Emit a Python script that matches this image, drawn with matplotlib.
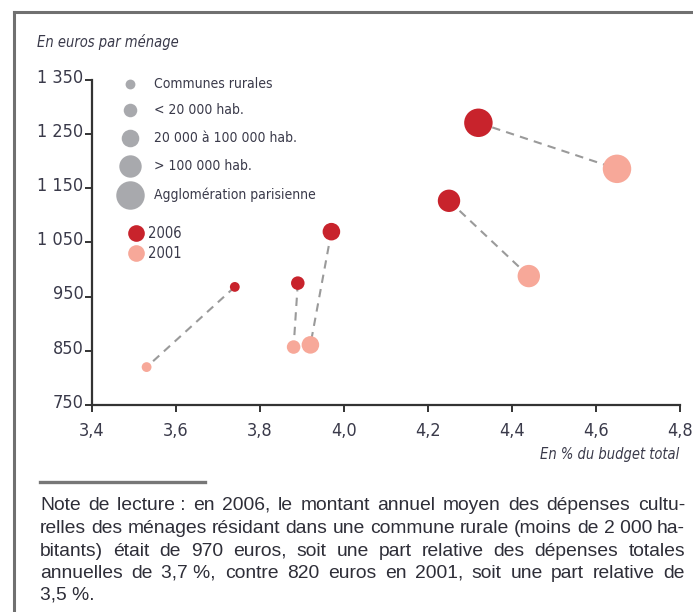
import matplotlib
matplotlib.use("Agg")
import matplotlib.pyplot as plt
from matplotlib.lines import Line2D
from matplotlib.font_manager import FontProperties
import matplotlib.transforms as mtransforms

plt.rcParams['font.family'] = ['DejaVu Sans']
plt.rcParams['font.stretch'] = 'condensed'

# ---- data ----
categories = ["Communes rurales", "< 20 000 hab.", "20 000 à 100 000 hab.",
              "> 100 000 hab.", "Agglomération parisienne"]
pct_2006 = [3.74, 3.89, 3.97, 4.25, 4.32]
eur_2006 = [968, 975, 1070, 1127, 1271]
pct_2001 = [3.53, 3.88, 3.92, 4.44, 4.65]
eur_2001 = [820, 857, 861, 988, 1186]
x_ticks = [3.4, 3.6, 3.8, 4.0, 4.2, 4.4, 4.6, 4.8]
x_ticklabels = ["3,4", "3,6", "3,8", "4,0", "4,2", "4,4", "4,6", "4,8"]
y_ticks = [750, 850, 950, 1050, 1150, 1250, 1350]
y_ticklabels = ["750", "850", "950", "1 050", "1 150", "1 250", "1 350"]
year_labels = ["2006", "2001"]
note_lines = [
    "Note de lecture\u00a0: en 2006, le montant annuel moyen des dépenses cultu-",
    "relles des ménages résidant dans une commune rurale (moins de 2\u00a0000 ha-",
    "bitants) était de 970 euros, soit une part relative des dépenses totales",
    "annuelles de 3,7\u00a0%, contre 820 euros en 2001, soit une part relative de",
    "3,5\u00a0%.",
]

# ---- style ----
sizes = [50, 95, 160, 260, 420]  # marker area, points^2
c2006 = "#c8232c"
c2001 = "#f7a899"
cgray = "#a8a9ad"
txt = "#3a3a4a"

W, H = 693, 612
fig = plt.figure(figsize=(W / 100, H / 100), dpi=100)

# frame (top and left edges)
fig.add_artist(Line2D([14 / W, 1.0], [1 - 12 / H, 1 - 12 / H], color="#707070", lw=2.2,
                      transform=fig.transFigure))
fig.add_artist(Line2D([14 / W, 14 / W], [1 - 12 / H, 0.0], color="#707070", lw=2.2,
                      transform=fig.transFigure))

ax = fig.add_axes([92 / W, 1 - 405 / H, (680 - 92) / W, (405 - 80) / H])
ax.set_xlim(3.4, 4.8)
ax.set_ylim(750, 1350)
for s in ["top", "right"]:
    ax.spines[s].set_visible(False)
for s in ["left", "bottom"]:
    ax.spines[s].set_color("#333333")
    ax.spines[s].set_linewidth(1.6)
ax.set_xticks(x_ticks)
ax.set_xticklabels(x_ticklabels)
ax.set_yticks(y_ticks)
ax.set_yticklabels(y_ticklabels)
ax.tick_params(axis="both", direction="out", length=5, width=1.4, color="#333333",
               labelsize=13, labelcolor=txt)
ax.tick_params(axis="y", pad=1)
ax.tick_params(axis="x", pad=7)
shift = mtransforms.ScaledTranslation(0, -2 / 72, fig.dpi_scale_trans)
for lab in ax.get_yticklabels():
    lab.set_verticalalignment("baseline")
    lab.set_transform(lab.get_transform() + shift)

# connecting dashed lines
for x1, y1, x2, y2 in zip(pct_2006, eur_2006, pct_2001, eur_2001):
    ax.plot([x1, x2], [y1, y2], ls=(0, (4, 3)), color="#9a9a9a", lw=1.5, zorder=1)

ax.scatter(pct_2001, eur_2001, s=sizes, color=c2001, edgecolors="none", zorder=2)
ax.scatter(pct_2006, eur_2006, s=sizes, color=c2006, edgecolors="none", zorder=3)

# legend: sizes
leg_y = [84, 110, 138, 166, 195]
for cat, sz, yp in zip(categories, sizes, leg_y):
    fig.add_artist(Line2D([130 / W], [1 - yp / H], marker="o", ls="none",
                          markersize=sz ** 0.5, color=cgray, markeredgewidth=0,
                          transform=fig.transFigure))
    fig.text(154 / W, 1 - yp / H, cat, fontsize=10, color=txt, va="center", ha="left")

# legend: years
for lab, col, yp in zip(year_labels, [c2006, c2001], [233, 253]):
    fig.add_artist(Line2D([136 / W], [1 - yp / H], marker="o", ls="none",
                          markersize=12, color=col, markeredgewidth=0,
                          transform=fig.transFigure))
    fig.text(148 / W, 1 - yp / H, lab, fontsize=10.5, color=txt, va="center", ha="left")

# axis titles
fig.text(37 / W, 1 - 42 / H, "En euros par ménage", fontsize=10.5, style="italic",
         color=txt, va="center", ha="left")
fig.text(679 / W, 1 - 455 / H, "En % du budget total", fontsize=10.5, style="italic",
         color=txt, va="center", ha="right")

# separator
fig.add_artist(Line2D([40 / W, 205 / W], [1 - 482 / H, 1 - 482 / H], color="#777777",
                      lw=2.4, transform=fig.transFigure))

# justified note text (baseline aligned)
note_font = FontProperties(family=["Liberation Sans", "DejaVu Sans"], size=13.9,
                           stretch="normal")
renderer = fig.canvas.get_renderer()
x_left, x_right = 40, 685
baseline_y = [510, 533, 556, 578, 600]
note_color = "#2e2e38"


def text_width(s):
    t = fig.text(0, 0, s, fontproperties=note_font)
    w = t.get_window_extent(renderer=renderer).width
    t.remove()
    return w


for i, (line, yp) in enumerate(zip(note_lines, baseline_y)):
    words = line.split(" ")
    last = i == len(note_lines) - 1
    if last or len(words) == 1:
        fig.text(x_left / W, 1 - yp / H, line, fontproperties=note_font, color=note_color,
                 va="baseline", ha="left")
        continue
    widths = [text_width(w) for w in words]
    gap = (x_right - x_left - sum(widths)) / (len(words) - 1)
    xp = x_left
    for w, wd in zip(words, widths):
        fig.text(xp / W, 1 - yp / H, w, fontproperties=note_font, color=note_color,
                 va="baseline", ha="left")
        xp += wd + gap

fig.savefig("out.png", dpi=100)
